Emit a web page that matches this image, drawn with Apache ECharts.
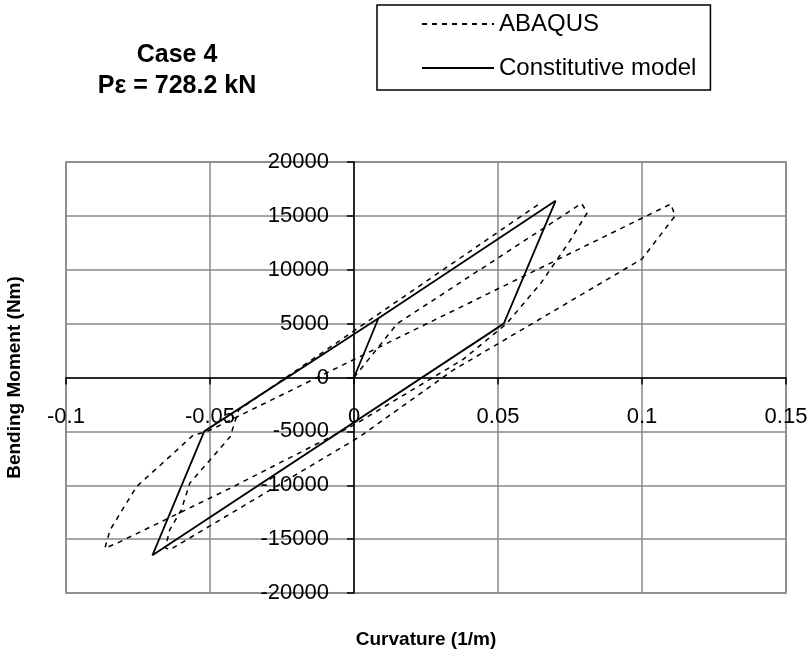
<!DOCTYPE html>
<html lang="en">
<head>
	<meta charset="UTF-8">
	<title>Case 4</title>
	<script src="https://cdn.jsdelivr.net/npm/echarts@6/dist/echarts.min.js"></script>
	<style>
		html,body{width:100%;height:100%;margin:0;padding:0;background:#fff;}
		#chart{width:810px;height:652px;}
	</style>
</head>
<body>
	<div id="chart"></div>
<script>
	// curvature (1/m), bending moment (Nm)
	var abaqusX = [0, 0.015, 0.079, 0.081, 0.075, 0.065, 0.053, 0.038, 0, -0.043, -0.0824, -0.0865, -0.0847, -0.0755, -0.0627, -0.0558, -0.0511, 0.0067, 0.110, 0.1115, 0.1, 0.0345, 0.002, -0.064, -0.0655, -0.064, -0.06, -0.057, -0.05, -0.043, -0.04, 0.0646];
	var abaqusY = [0, 5000, 16150, 15300, 12700, 8800, 5000, 1700, -4400, -10280, -15390, -15850, -14150, -10130, -7030, -5340, -5030, 2550, 16100, 15000, 11000, 696, -5490, -16000, -15800, -14150, -12300, -9800, -7660, -5490, -3000, 16170];

	var modelX = [0, 0.0085, 0.07, 0.052, -0.07, -0.052, 0.0085, 0.07];
	var modelY = [0, 5500, 16400, 5000, -16500, -5000, 5500, 16400];

	function pairs(xs, ys) {
		var out = [];
		for (var i = 0; i < xs.length; i++) {
			out.push([xs[i], ys[i]]);
		}
		return out;
	}

	var myChart = echarts.init(document.getElementById('chart'));
	var labelFont = 'Liberation Sans';
	// the axes cross at zero, so shift them in from the grid edges
	var xZeroShift = -215.5;
	var yZeroShift = -288;

	var options = {
		animation: false,
		title: {
			text: 'Case 4\nP\u03b5 = 728.2 kN',
			left: 172,
			top: 35,
			textAlign: 'center',
			textStyle: {
				fontFamily: labelFont,
				fontWeight: 'bold',
				fontSize: 25,
				lineHeight: 31,
				color: '#000'
			}
		},
		legend: {
			orient: 'vertical',
			left: 377,
			top: 5,
			padding: [7, 14, 10, 44],
			itemGap: 20,
			itemWidth: 72,
			itemHeight: 24,
			borderColor: '#000',
			borderWidth: 1.5,
			itemStyle: {opacity: 0},
			textStyle: {fontFamily: labelFont, fontSize: 24, color: '#000', padding: [0, 0, 0, 0]},
			data: ['ABAQUS', 'Constitutive model']
		},
		grid: {
			left: 66,
			right: 24,
			top: 162,
			bottom: 59,
			outerBoundsMode: 'none',
			containLabel: false,
			show: true,
			borderColor: '#888',
			borderWidth: 1.5
		},
		xAxis: {
			type: 'value',
			min: -0.1,
			max: 0.15,
			interval: 0.05,
			position: 'bottom',
			offset: xZeroShift,
			name: 'Curvature (1/m)',
			nameLocation: 'middle',
			nameGap: 253,
			nameTextStyle: {fontFamily: labelFont, fontWeight: 'bold', fontSize: 19, color: '#000'},
			axisLine: {onZero: false, lineStyle: {color: '#000', width: 1.5}},
			axisTick: {show: true, length: 7, lineStyle: {color: '#000', width: 1.5}},
			axisLabel: {
				fontFamily: labelFont, fontSize: 22, color: '#000', margin: 28,
				formatter: function (v) { return String(Math.round(v * 100) / 100); }
			},
			splitLine: {show: true, lineStyle: {color: '#888', width: 1.5}}
		},
		yAxis: {
			type: 'value',
			min: -20000,
			max: 20000,
			interval: 5000,
			position: 'left',
			offset: yZeroShift,
			name: 'Bending Moment (Nm)',
			nameLocation: 'middle',
			nameGap: 330,
			nameRotate: 90,
			nameTextStyle: {fontFamily: labelFont, fontWeight: 'bold', fontSize: 19, color: '#000'},
			axisLine: {onZero: false, lineStyle: {color: '#000', width: 1.5}},
			axisTick: {show: true, length: 7, lineStyle: {color: '#000', width: 1.5}},
			axisLabel: {
				fontFamily: labelFont, fontSize: 22, color: '#000', margin: 25,
				formatter: function (v) { return String(v); }
			},
			splitLine: {show: true, lineStyle: {color: '#888', width: 1.5}}
		},
		series: [
			{
				name: 'ABAQUS',
				type: 'line',
				symbol: 'none',
				color: '#000',
				lineStyle: {color: '#000', width: 1.5, type: [5, 5]},
				data: pairs(abaqusX, abaqusY)
			},
			{
				name: 'Constitutive model',
				type: 'line',
				symbol: 'none',
				color: '#000',
				lineStyle: {color: '#000', width: 1.8, type: 'solid'},
				data: pairs(modelX, modelY)
			}
		]
	};
	myChart.setOption(options);
</script>
</body>
</html>
